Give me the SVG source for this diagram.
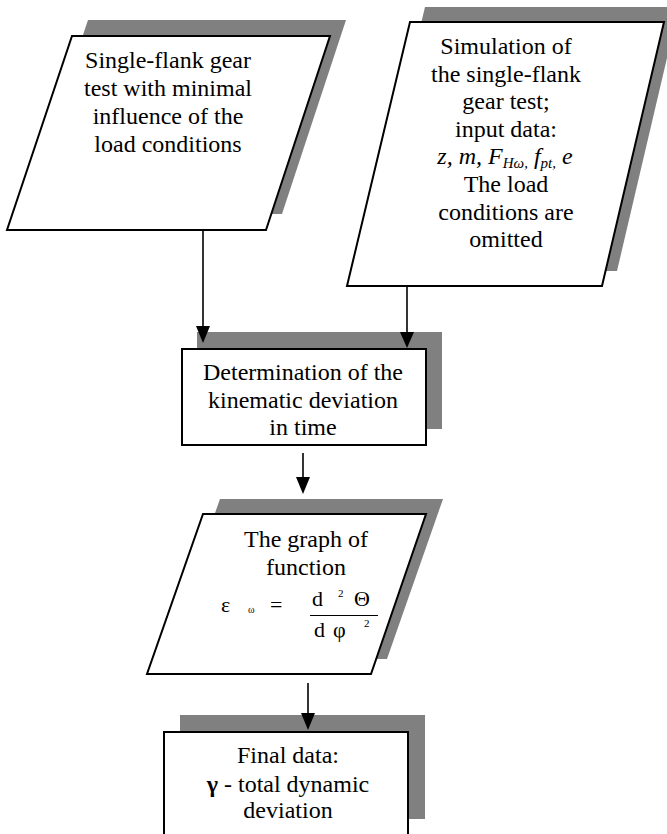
<svg xmlns="http://www.w3.org/2000/svg" width="667" height="834" viewBox="0 0 667 834">
<defs>
<style>
.shadow{fill:#808080;stroke:none}
.box{fill:#ffffff;stroke:#000000;stroke-width:2}
.t{font-family:"Liberation Serif","Times New Roman",serif;font-size:24px;fill:#000;text-anchor:middle}
.f{font-family:"Liberation Serif","Times New Roman",serif;fill:#000}
.conn{stroke:#000;stroke-width:1.6;fill:none}
.head{fill:#000;stroke:none}
</style>
</defs>
<rect width="667" height="834" fill="#ffffff"/>

<g id="node1">
<polygon class="shadow" points="88,20 346,20 282,214 23,214"/>
<polygon class="box" points="72,36 330,36 266,230 7,230"/>
<text class="t" x="168"><tspan x="168" y="68">Single-flank gear</tspan><tspan x="168" y="96">test with minimal</tspan><tspan x="168" y="124">influence of the</tspan><tspan x="168" y="152">load conditions</tspan></text>
</g>

<g id="node2">
<polygon class="shadow" points="425,7 679,7 617,271 362,271"/>
<polygon class="box" points="410,22 664,22 602,286 347,286"/>
<text class="t"><tspan x="506" y="54">Simulation of</tspan><tspan x="506" y="82">the single-flank</tspan><tspan x="506" y="109">gear test;</tspan><tspan x="506" y="137">input data:</tspan></text>
<text class="t" x="505" y="164" font-style="italic">z, m, F<tspan font-size="15" dy="4">Hω,</tspan><tspan dy="-4"> f</tspan><tspan font-size="15" dy="4">pt,</tspan><tspan dy="-4"> e</tspan></text>
<text class="t"><tspan x="506" y="192">The load</tspan><tspan x="506" y="220">conditions are</tspan><tspan x="506" y="247">omitted</tspan></text>
</g>

<g id="node3">
<rect class="shadow" x="197" y="332" width="245" height="97"/>
<rect class="box" x="182" y="349" width="244" height="96"/>
<text class="t"><tspan x="303" y="380">Determination of the</tspan><tspan x="303" y="408">kinematic deviation</tspan><tspan x="303" y="435">in time</tspan></text>
</g>

<g id="node4">
<polygon class="shadow" points="220,499 443,499 387,659 163,659"/>
<polygon class="box" points="203,514 426,514 371,674 147,674"/>
<text class="t"><tspan x="306" y="547">The graph of</tspan><tspan x="306" y="575">function</tspan></text>
<text class="f" x="221" y="612" font-size="22">ε</text>
<text class="f" x="248" y="613" font-size="10">ω</text>
<text class="f" x="270" y="612" font-size="22">=</text>
<text class="f" x="312" y="606" font-size="22">d</text>
<text class="f" x="338" y="597" font-size="11">2</text>
<text class="f" x="354" y="606" font-size="22">Θ</text>
<line x1="310" y1="615.5" x2="378" y2="615.5" stroke="#000" stroke-width="1.2"/>
<text class="f" x="314" y="637" font-size="22">d</text>
<text class="f" x="333" y="637" font-size="22">φ</text>
<text class="f" x="364" y="627" font-size="11">2</text>
</g>

<g id="node5">
<rect class="shadow" x="180" y="715" width="245" height="104"/>
<rect class="box" x="164" y="732" width="244" height="110"/>
<text class="t"><tspan x="288" y="763">Final data:</tspan><tspan x="288" y="792"><tspan font-weight="bold">γ</tspan> - total dynamic</tspan><tspan x="288" y="818">deviation</tspan></text>
</g>

<g id="connectors">
<line class="conn" x1="203" y1="230" x2="203" y2="328"/>
<polygon class="head" points="196,326 210,326 203,343"/>
<line class="conn" x1="407" y1="286" x2="407" y2="334"/>
<polygon class="head" points="400,332 414,332 407,348"/>
<line class="conn" x1="303" y1="453" x2="303" y2="479"/>
<polygon class="head" points="296,477 310,477 303,494"/>
<line class="conn" x1="308" y1="683" x2="308" y2="715"/>
<polygon class="head" points="301,713 315,713 308,730"/>
</g>
</svg>
